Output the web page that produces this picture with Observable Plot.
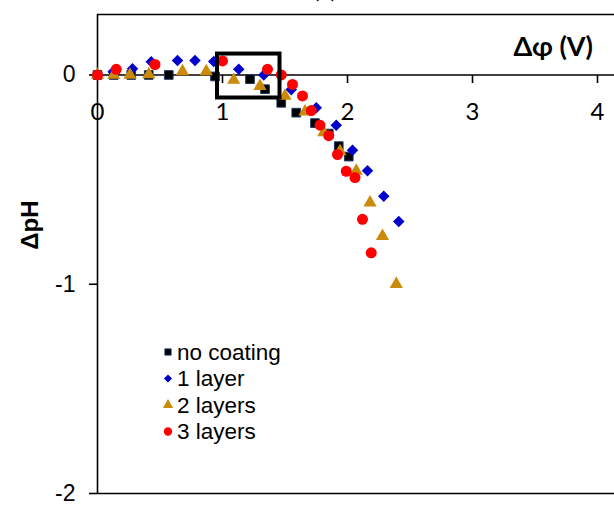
<!DOCTYPE html>
<html>
<head>
<meta charset="utf-8">
<script src="https://cdn.jsdelivr.net/npm/d3@7"></script>
<script src="https://cdn.jsdelivr.net/npm/@observablehq/plot@0.6"></script>
<style>
  html, body { margin: 0; padding: 0; background: white; }
  #chart { position: relative; width: 614px; height: 505px; overflow: hidden; }
  svg { overflow: visible; }
</style>
</head>
<body>
<div id="chart"></div>
<script>
// ---- data ----
const seriesNames = ["no coating", "1 layer", "2 layers", "3 layers"];

const xNoCoating = [0, 0.13, 0.27, 0.41, 0.57, 0.94, 1.22, 1.34, 1.47, 1.59, 1.74, 1.85, 1.93, 2.01];
const yNoCoating = [0, 0, 0, 0, 0, -0.007, -0.02, -0.068, -0.133, -0.18, -0.23, -0.28, -0.34, -0.39];

const x1Layer = [0, 0.125, 0.28, 0.43, 0.64, 0.78, 0.93, 1.13, 1.33, 1.55, 1.75, 1.91, 2.04, 2.16, 2.29, 2.41];
const y1Layer = [0, 0.015, 0.03, 0.063, 0.069, 0.069, 0.064, 0.027, 0.0, -0.07, -0.157, -0.24, -0.36, -0.458, -0.58, -0.70];

const x2Layers = [0, 0.13, 0.26, 0.41, 0.68, 0.87, 1.09, 1.3, 1.5, 1.66, 1.81, 1.94, 2.07, 2.18, 2.28, 2.39];
const y2Layers = [0, 0, 0, 0.003, 0.017, 0.017, -0.024, -0.053, -0.10, -0.175, -0.275, -0.365, -0.458, -0.61, -0.77, -1.0];

const x3Layers = [0, 0.15, 0.46, 1.0, 1.36, 1.47, 1.56, 1.64, 1.71, 1.78, 1.85, 1.92, 1.99, 2.06, 2.12, 2.19];
const y3Layers = [0, 0.027, 0.05, 0.067, 0.027, 0.0, -0.045, -0.1, -0.17, -0.24, -0.29, -0.38, -0.46, -0.49, -0.69, -0.85];

const xTicks = [0, 1, 2, 3, 4];
const yTicks = [-2, -1, 0];
const xDomain = [0, 4.136];
const yDomain = [-2, 0.289];
const boxExtent = {x1: 0.96, x2: 1.46, y1: -0.11, y2: 0.10};

const xLabel = "Δφ (V)";
const yLabel = "ΔpH";
const titleText = "(a)";

// ---- build ----
const zip = (xs, ys) => xs.map((x, i) => ({x, y: ys[i]}));
const tickSymbol = { draw(ctx) { ctx.moveTo(0, 0); ctx.lineTo(0, 8); } };
const fmt = d => (d < 0 ? "-" + Math.abs(d) : String(d));

const styles = [
  {symbol: "square", fill: "#000000", stroke: "#1f3864", strokeWidth: 1, r: 4.9, lr: 3.5},
  {symbol: "diamond2", fill: "#0000cc", stroke: "none", strokeWidth: 0, r: 5.2, lr: 3.7},
  {symbol: "triangle", fill: "#cc8a0a", stroke: "none", strokeWidth: 0, r: 4.9, lr: 3.8},
  {symbol: "circle", fill: "#ff0000", stroke: "none", strokeWidth: 0, r: 5.5, lr: 4.2}
];
const series = [zip(xNoCoating, yNoCoating), zip(x1Layer, y1Layer), zip(x2Layers, y2Layers), zip(x3Layers, y3Layers)];

const chart = Plot.plot({
  width: 614,
  height: 505,
  marginLeft: 97,
  marginRight: 0,
  marginTop: 14,
  marginBottom: 12,
  x: {domain: xDomain, axis: null},
  y: {domain: yDomain, axis: null},
  style: {fontFamily: "'Liberation Sans', Arial, sans-serif", background: "white", color: "black"},
  marks: [
    Plot.ruleY([yDomain[1], yDomain[0]], {stroke: "black", strokeWidth: 1.6}),
    Plot.ruleX([0], {stroke: "black", strokeWidth: 1.6}),
    Plot.ruleY([0], {stroke: "black", strokeWidth: 1.6, x1: 0, x2: xDomain[1]}),
    Plot.axisY(yTicks, {tickSize: 8, tickPadding: 14, fontSize: 23, tickFormat: fmt, strokeWidth: 1.6, label: null}),
    Plot.dot(xTicks.filter(d => d > 0), {x: d => d, y: 0, symbol: tickSymbol, stroke: "black", fill: "none", strokeWidth: 1.6}),
    Plot.text(xTicks, {x: d => d, y: 0, text: d => String(d), dy: 37, fontSize: 24, fontFamily: "Lato, 'Open Sans', sans-serif", textAnchor: "middle", lineAnchor: "middle"}),
    ...series.map((data, i) => Plot.dot(data, {
      x: "x", y: "y",
      symbol: styles[i].symbol,
      fill: styles[i].fill,
      stroke: styles[i].stroke,
      strokeWidth: styles[i].strokeWidth,
      r: styles[i].r
    })),
    Plot.rect([boxExtent], {x1: "x1", x2: "x2", y1: "y1", y2: "y2", fill: "none", stroke: "black", strokeWidth: 4})
  ]
});

document.getElementById("chart").appendChild(chart);

const svg = d3.select(chart);

// title (cut off at top, as in the reference)
svg.append("text")
  .attr("x", 325).attr("y", -2)
  .attr("text-anchor", "middle")
  .attr("font-family", "Lato, sans-serif")
  .attr("font-size", 24)
  .text(titleText);

// x label
svg.append("text")
  .attr("x", 593).attr("y", 47)
  .attr("dy", "0.35em")
  .attr("text-anchor", "end")
  .attr("font-family", "Lato, 'Open Sans', sans-serif")
  .attr("font-weight", "bold")
  .attr("font-size", 27)
  .text(xLabel);

// y label
svg.append("text")
  .attr("transform", "translate(30,225) rotate(-90)")
  .attr("dy", "0.35em")
  .attr("text-anchor", "middle")
  .attr("font-family", "'Liberation Sans', Arial, sans-serif")
  .attr("font-weight", "bold")
  .attr("font-size", 24)
  .text(yLabel);

// legend
const symMap = {square: d3.symbolSquare, diamond2: d3.symbolDiamond2, triangle: d3.symbolTriangle, circle: d3.symbolCircle};
const lg = svg.append("g").attr("text-anchor", "start");
seriesNames.forEach((name, i) => {
  const cy = 352 + 26.5 * i;
  const s = styles[i];
  lg.append("path")
    .attr("transform", `translate(168,${cy})`)
    .attr("d", d3.symbol(symMap[s.symbol], s.lr * s.lr * Math.PI)())
    .attr("fill", s.fill)
    .attr("stroke", s.stroke)
    .attr("stroke-width", s.strokeWidth);
  lg.append("text")
    .attr("x", 177).attr("y", cy)
    .attr("dy", "0.35em")
    .attr("text-anchor", "start")
    .attr("font-family", "'Liberation Sans', Arial, sans-serif")
    .attr("font-size", 22.5)
    .text(name);
});
</script>
</body>
</html>
